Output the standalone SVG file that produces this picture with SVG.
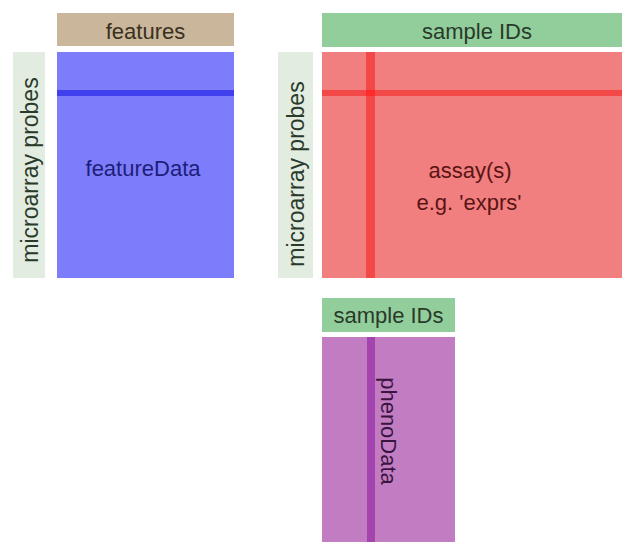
<svg xmlns="http://www.w3.org/2000/svg" width="622" height="542" viewBox="0 0 622 542">
<style>
text{font-family:"Liberation Sans",Arial,sans-serif;font-size:22px;text-anchor:middle;dominant-baseline:central}
.hdr{fill:#2a3a2a}
.side{fill:#e2ece0}
.probe{fill:#2a3a2a;font-size:23px}
</style>
<rect width="622" height="542" fill="#ffffff"/>
<g id="featuresHeader">
<rect x="57" y="13" width="177" height="33" fill="#c9b69b"/>
<text x="145.5" y="31" fill="#3a3020">features</text>
</g>
<g id="featureProbes">
<rect x="13" y="52" width="32" height="226" class="side"/>
<text transform="translate(30,170) rotate(-90)" class="probe">microarray probes</text>
</g>
<g id="featureData">
<rect x="57" y="52" width="177" height="226" fill="#7d7dfb"/>
<rect x="57" y="90" width="177" height="6" fill="#4040ee"/>
<text x="143" y="168" fill="#1e1e7a">featureData</text>
</g>
<g id="sampleHeader">
<rect x="322" y="13" width="300" height="34" fill="#92ce9c"/>
<text x="477" y="31" class="hdr">sample IDs</text>
</g>
<g id="assayProbes">
<rect x="278" y="52" width="35" height="226" class="side"/>
<text transform="translate(296,174) rotate(-90)" class="probe">microarray probes</text>
</g>
<g id="assayData">
<rect x="322" y="52" width="300" height="226" fill="#f17f7f"/>
<rect x="366" y="52" width="9" height="226" fill="#f24848"/>
<rect x="322" y="90" width="300" height="6" fill="#f24848"/>
<rect x="366" y="90" width="9" height="6" fill="#ff2a2a"/>
<text x="470" y="170" fill="#5a1414">assay(s)</text>
<text x="469" y="202" fill="#5a1414">e.g. 'exprs'</text>
</g>
<g id="phenoHeader">
<rect x="322" y="298" width="133" height="34" fill="#92ce9c"/>
<text x="388.5" y="315" class="hdr">sample IDs</text>
</g>
<g id="phenoData">
<rect x="322" y="337" width="133" height="205" fill="#c27dc2"/>
<rect x="367" y="337" width="8" height="205" fill="#a444ae"/>
<text transform="translate(388,431) rotate(90)" fill="#3a1440">phenoData</text>
</g>
<g id="connectors"></g>
</svg>
